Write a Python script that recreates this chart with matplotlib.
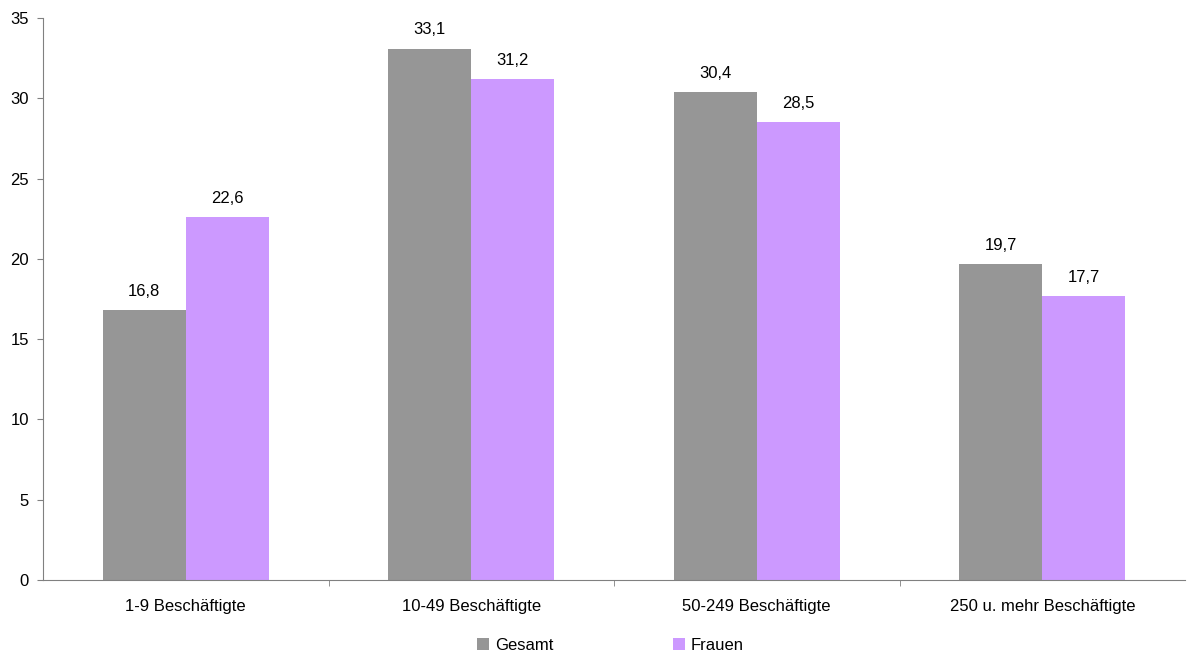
import numpy as np
import matplotlib.pyplot as plt

plt.rcParams['font.family'] = ['Liberation Sans', 'DejaVu Sans']

# Daten
kategorien = ['1-9 Beschäftigte', '10-49 Beschäftigte', '50-249 Beschäftigte', '250 u. mehr Beschäftigte']
gesamt = [16.8, 33.1, 30.4, 19.7]
frauen = [22.6, 31.2, 28.5, 17.7]

fs = 12

fig = plt.figure(figsize=(11.88, 6.54), dpi=100)
ax = fig.add_axes([43 / 1188, 1 - 580 / 654, 1142 / 1188, 562 / 654])

x = np.arange(len(kategorien))
breite = 0.29
b1 = ax.bar(x - breite / 2, gesamt, breite, color='#969696', label='Gesamt')
b2 = ax.bar(x + breite / 2, frauen, breite, color='#CC99FF', label='Frauen')

for bars in (b1, b2):
    for b in bars:
        ax.annotate(f'{b.get_height():.1f}'.replace('.', ','),
                    (b.get_x() + b.get_width() / 2, b.get_height()),
                    xytext=(0, 8), textcoords='offset points',
                    ha='center', va='bottom', fontsize=fs)

ax.set_xlim(-0.5, len(kategorien) - 0.5)
ax.set_ylim(0, 35)
ax.set_yticks(range(0, 36, 5))
ax.set_xticks(x)
ax.set_xticklabels(kategorien)
ax.set_xticks(np.arange(0.5, len(kategorien) - 0.5), minor=True)
ax.tick_params(axis='x', which='major', length=0, pad=14, labelsize=fs)
ax.tick_params(axis='x', which='minor', length=4, color='#808080', direction='out')
ax.tick_params(axis='y', length=4, color='#808080', labelsize=fs, pad=6)

for s in ('top', 'right'):
    ax.spines[s].set_visible(False)
ax.spines['left'].set_color('#808080')
ax.spines['bottom'].set_color('#808080')

fig.legend(handles=[b1, b2], loc='center', bbox_to_anchor=(0.514, 1 - 645 / 654),
           ncol=2, frameon=False, fontsize=fs, handlelength=0.7, handleheight=0.7,
           handletextpad=0.35, columnspacing=7.2, borderpad=0)

fig.savefig('out.png', dpi=100)
